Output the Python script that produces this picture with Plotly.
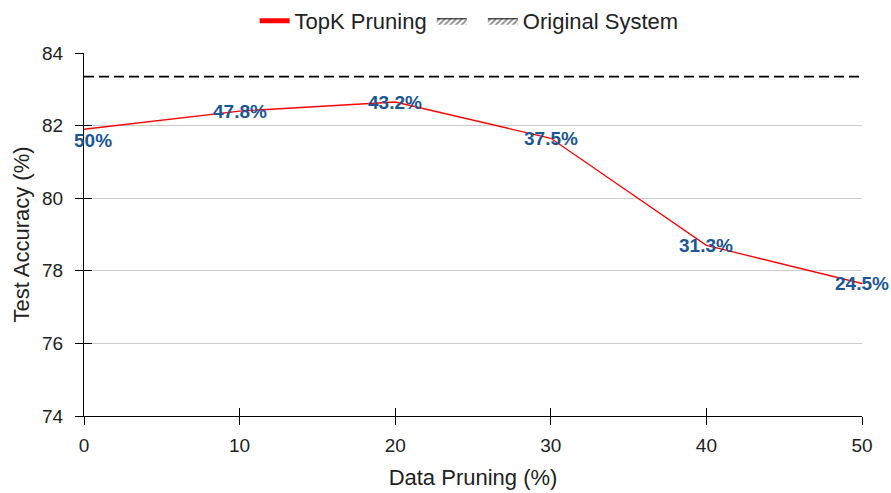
import plotly.graph_objects as go

pruning = [0, 10, 20, 30, 40, 50]
accuracy = [81.9, 82.4, 82.65, 81.65, 78.7, 77.65]
labels = ["50%", "47.8%", "43.2%", "37.5%", "31.3%", "24.5%"]
original = 83.35
x_ticks = [0, 10, 20, 30, 40, 50]
y_ticks = [74, 76, 78, 80, 82, 84]

fig = go.Figure()
fig.add_trace(go.Scatter(x=pruning, y=accuracy, mode="lines", showlegend=False,
                         line=dict(color="red", width=1.3)))
fig.add_trace(go.Scatter(x=[0, 50], y=[original, original], mode="lines", showlegend=False,
                         line=dict(color="black", width=1.8, dash="10px,5px")))
# legend-only entries
fig.add_trace(go.Scatter(x=[None], y=[None], mode="lines", name="TopK Pruning",
                         line=dict(color="red", width=5)))
for nm in [" ", "Original System"]:
    fig.add_trace(go.Scatter(x=[None, None, None], y=[None, None, None], mode="lines", name=nm,
                             fill="toself", fillcolor="white",
                             fillpattern=dict(shape="/", fgcolor="black", bgcolor="white", size=4, solidity=0.4),
                             line=dict(color="black", width=1)))
# invisible trace for the overlay axes carrying the inner tick halves
fig.add_trace(go.Scatter(x=[None], y=[None], xaxis="x2", yaxis="y2", showlegend=False,
                         hoverinfo="skip"))

shifts = [(9, -11)] + [(0, 0)] * 5
for xv, yv, t, (dx, dy) in zip(pruning, accuracy, labels, shifts):
    fig.add_annotation(x=xv, y=yv, text="<b>" + t + "</b>", showarrow=False,
                       xshift=dx, yshift=dy,
                       font=dict(family="Liberation Sans, Arial", size=19, color="#1b5796"))

fig.update_layout(
    width=891, height=493,
    margin=dict(l=84, r=29, t=53, b=77),
    plot_bgcolor="white", paper_bgcolor="white",
    font=dict(family="Liberation Sans, Arial", size=19, color="#222"),
    legend=dict(orientation="h", x=0.495, xanchor="center", y=1.0, yref="container",
                yanchor="top", font=dict(size=22), itemwidth=30, traceorder="normal"),
    xaxis=dict(range=[0, 50], tickvals=x_ticks, showgrid=False, showline=True,
               linecolor="black", linewidth=1.2, ticks="outside", ticklen=8,
               tickcolor="black", ticklabelstandoff=4, automargin=False,
               title=dict(text="Data Pruning (%)", font=dict(size=22), standoff=14),
               zeroline=False),
    yaxis=dict(range=[74, 84], tickvals=y_ticks, showgrid=True, gridcolor="#cccccc",
               showline=True, linecolor="black", linewidth=1.2, ticks="outside",
               ticklen=8, tickcolor="black", ticklabelstandoff=8, automargin=False,
               title=dict(text="Test Accuracy (%)", font=dict(size=22), standoff=6),
               zeroline=False),
    xaxis2=dict(range=[0, 50], tickvals=x_ticks, overlaying="x", anchor="y2", side="bottom",
                showgrid=False, showline=False, ticks="inside", ticklen=8, tickcolor="black",
                showticklabels=False, zeroline=False, automargin=False),
    yaxis2=dict(range=[74, 84], tickvals=y_ticks, overlaying="y", anchor="x2", side="left",
                showgrid=False, showline=False, ticks="inside", ticklen=8, tickcolor="black",
                showticklabels=False, zeroline=False, automargin=False),
)
fig.write_html("out.html")
